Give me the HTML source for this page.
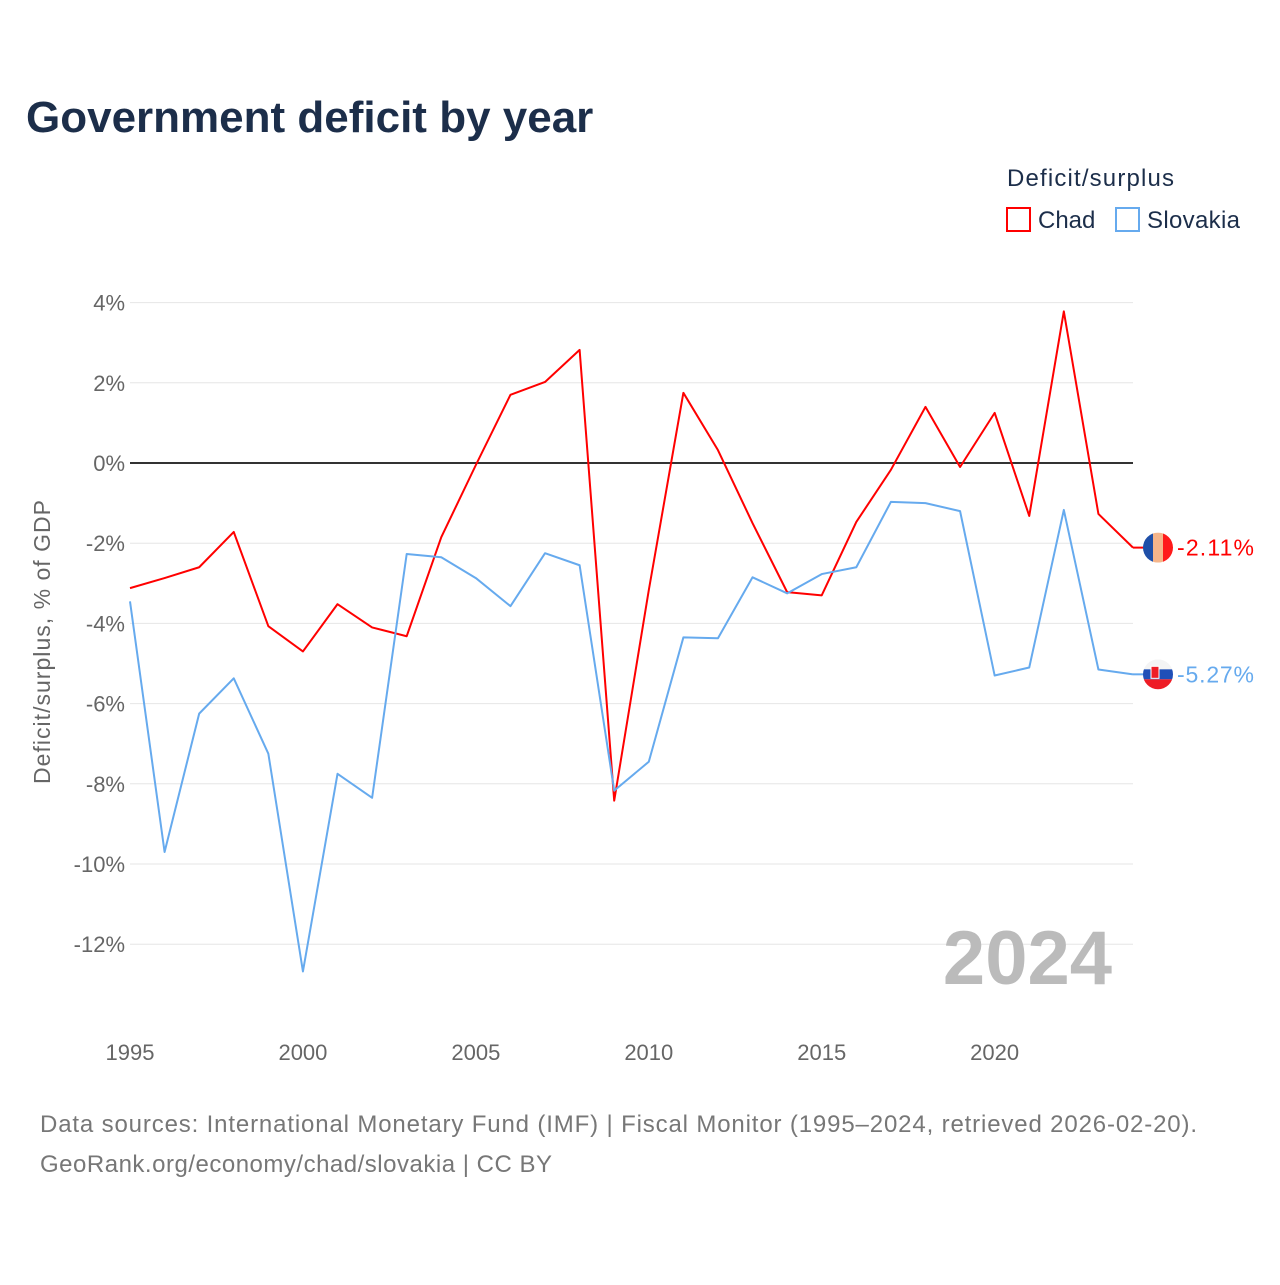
<!DOCTYPE html>
<html><head><meta charset="utf-8"><style>
html,body{margin:0;padding:0;background:#fff;}
body{width:1280px;height:1280px;position:relative;font-family:"Liberation Sans",sans-serif;overflow:hidden;}
</style></head><body>
<svg width="1280" height="1280" viewBox="0 0 1280 1280" xmlns="http://www.w3.org/2000/svg">
<defs><clipPath id="c1"><circle id="c1c" cx="0" cy="0" r="15"/></clipPath><clipPath id="c2"><circle id="c2c" cx="0" cy="0" r="15"/></clipPath></defs>
<text x="26" y="132" font-size="44" font-weight="bold" fill="#1c2e4a">Government deficit by year</text>
<text x="1007" y="186" font-size="24" fill="#1c2e4a" textLength="167">Deficit/surplus</text>
<g><rect x="1007" y="208" width="23" height="23" fill="none" stroke="#ff0000" stroke-width="2"/><text x="1038" y="228" font-size="24" fill="#1c2e4a">Chad</text></g>
<g><rect x="1116" y="208" width="23" height="23" fill="none" stroke="#66aaee" stroke-width="2"/><text x="1147" y="228" font-size="24" fill="#1c2e4a" textLength="93">Slovakia</text></g>
<g id="grid"></g>
<g id="yticks"></g>
<g id="xticks"></g>
<text transform="translate(50,642) rotate(-90)" text-anchor="middle" font-size="23" fill="#666" textLength="284">Deficit/surplus, % of GDP</text>
<text x="1112" y="984" text-anchor="end" font-size="76" font-weight="bold" fill="#bbbbbb">2024</text>
<g id="series"></g>
<text x="40" y="1132" font-size="24" fill="#777" textLength="1157">Data sources: International Monetary Fund (IMF) | Fiscal Monitor (1995–2024, retrieved 2026-02-20).</text>
<text x="40" y="1172" font-size="24" fill="#777" textLength="512">GeoRank.org/economy/chad/slovakia | CC BY</text>
</svg>
<script>
const years=[1995,1996,1997,1998,1999,2000,2001,2002,2003,2004,2005,2006,2007,2008,2009,2010,2011,2012,2013,2014,2015,2016,2017,2018,2019,2020,2021,2022,2023,2024];
const chad=[-3.12,-2.87,-2.6,-1.72,-4.07,-4.7,-3.52,-4.1,-4.32,-1.85,-0.05,1.7,2.02,2.82,-8.42,-3.17,1.75,0.32,-1.5,-3.22,-3.3,-1.47,-0.17,1.4,-0.1,1.25,-1.32,3.78,-1.27,-2.11];
const slovakia=[-3.45,-9.7,-6.25,-5.37,-7.25,-12.68,-7.75,-8.35,-2.27,-2.35,-2.87,-3.57,-2.25,-2.55,-8.17,-7.45,-4.35,-4.37,-2.85,-3.25,-2.77,-2.6,-0.97,-1.0,-1.2,-5.3,-5.1,-1.17,-5.15,-5.27];
const yTicks=[4,2,0,-2,-4,-6,-8,-10,-12];
const xTicks=[1995,2000,2005,2010,2015,2020];
const NS="http://www.w3.org/2000/svg";
const xs=y=>130+(y-1995)*(1133-130)/29;
const ys=v=>463-v*40.1;
function mk(t,a,p){const e=document.createElementNS(NS,t);for(const k in a)e.setAttribute(k,a[k]);p.appendChild(e);return e;}
const grid=document.getElementById('grid'),yt=document.getElementById('yticks'),xt=document.getElementById('xticks'),se=document.getElementById('series');
yTicks.forEach(v=>{
 const l=mk('line',{x1:130,x2:1133,y1:ys(v),y2:ys(v),stroke:v===0?'#333':'#e6e6e6','stroke-width':v===0?2:1},grid);
 
 
 const t=mk('text',{x:125,y:ys(v)+8,'text-anchor':'end','font-size':22,fill:'#666'},yt);
 t.textContent=v+'%';
 
 
});
xTicks.forEach(y=>{
 const t=mk('text',{x:xs(y),y:1060,'text-anchor':'middle','font-size':22,fill:'#666'},xt);
 t.textContent=y;
 
 
});
function line(vals,color,name){
 const p=mk('polyline',{points:vals.map((v,i)=>xs(years[i])+','+ys(v)).join(' '),fill:'none',stroke:color,'stroke-width':2,'stroke-linejoin':'round'},se);
 
 
 const last=vals[vals.length-1],lx=xs(years[years.length-1]),ly=ys(last);
 mk('line',{x1:lx,x2:lx+12,y1:ly,y2:ly,stroke:color,'stroke-width':2},se);
 const t=mk('text',{x:1177,y:ly+8,'font-size':23,fill:color,textLength:77},se);
 t.textContent=last.toFixed(2)+'%';
 
 
 return ly;
}
const cy=line(chad,'#ff0000','chad');
const sy=line(slovakia,'#66aaee','slovakia');
const cx=1158;
document.getElementById('c1c').setAttribute('cx',cx);document.getElementById('c1c').setAttribute('cy',cy);
document.getElementById('c2c').setAttribute('cx',cx);document.getElementById('c2c').setAttribute('cy',sy);
let g=mk('g',{'clip-path':'url(#c1)'},se);


mk('rect',{x:cx-15,y:cy-15,width:10,height:30,fill:'#1f4fa8'},g);
mk('rect',{x:cx-5,y:cy-15,width:10,height:30,fill:'#f5b58a'},g);
mk('rect',{x:cx+5,y:cy-15,width:10,height:30,fill:'#ff1a1a'},g);
g=mk('g',{'clip-path':'url(#c2)'},se);


mk('rect',{x:cx-15,y:sy-15,width:30,height:10,fill:'#f4f4f4'},g);
mk('rect',{x:cx-15,y:sy-5,width:30,height:10,fill:'#1f4fb8'},g);
mk('rect',{x:cx-15,y:sy+5,width:30,height:10,fill:'#ee1c25'},g);
mk('rect',{x:cx-7,y:sy-8,width:8,height:12,fill:'#ee1c25',stroke:'#fff','stroke-width':1},g);
</script>
</body></html>
